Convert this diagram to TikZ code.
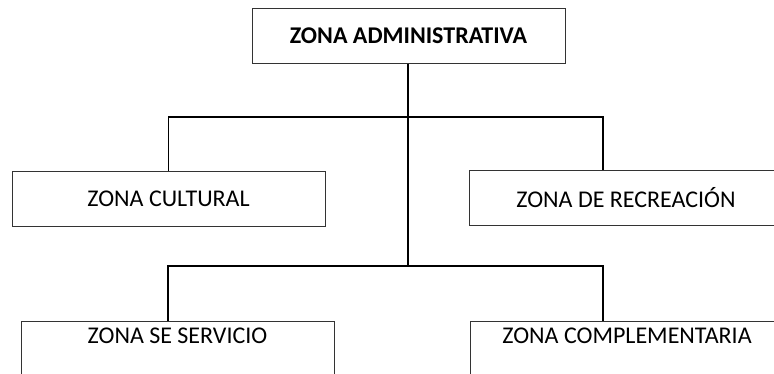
\documentclass[tikz,border=0pt]{standalone}
\usepackage{fontspec}
\setmainfont{Carlito}
\begin{document}
\begin{tikzpicture}[x=1pt,y=-1pt,
  box/.style={draw=black!80, line width=0.9pt, minimum width=313pt, minimum height=55pt,
    inner sep=0pt, font=\fontsize{24}{28}\selectfont},
  openbox/.style={box, anchor=north, minimum height=0pt, text height=22.5pt, text depth=40pt},
  link/.style={draw=black, line width=1.7pt}]
\useasboundingbox (0,0) rectangle (774,374);
\clip (0,0) rectangle (774,374);
\fill[white] (0,0) rectangle (774,374);
\node[box, font=\fontsize{24}{28}\selectfont\bfseries] (adm) at (408.5,36) {ZONA ADMINISTRATIVA};
\node[box] (cul) at (168.5,198.5) {ZONA CULTURAL};
\node[box] (rec) at (626,197.5) {ZONA DE RECREACIÓN};
\node[openbox] (ser) at (177.5,321) {ZONA SE SERVICIO};
\node[openbox] (com) at (627,321) {ZONA COMPLEMENTARIA};
\coordinate (bus1) at (408,117);
\coordinate (bus2) at (408,266);
\coordinate (r1) at (603,170);
\coordinate (r2) at (603,321);
\coordinate (l2) at (168,321);
\draw[link] (adm.south -| bus1) -- (bus2);
\draw[link] (cul.north) |- (bus1) -| (r1);
\draw[link] (l2) |- (bus2) -| (r2);
\end{tikzpicture}
\end{document}
